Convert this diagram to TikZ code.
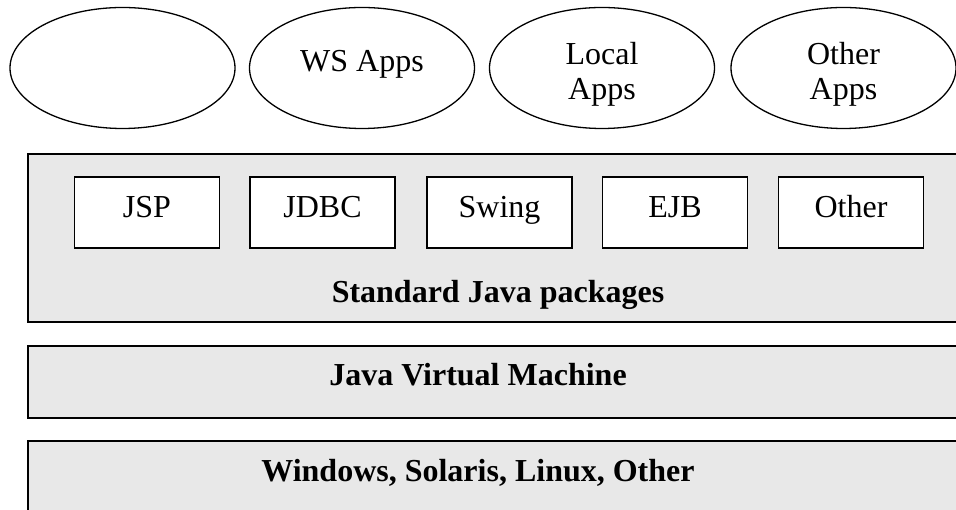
\documentclass[tikz,border=0pt]{standalone}
\usepackage{fontspec}
\setmainfont{Liberation Serif}
\usetikzlibrary{shapes.geometric}
\definecolor{layergray}{HTML}{E8E8E8}
\begin{document}
\begin{tikzpicture}[x=1pt,y=1pt,
  app/.style={draw, line width=1.3pt, ellipse, minimum width=225pt, minimum height=121pt, inner sep=0pt},
  layer/.style={draw, line width=1.7pt, fill=layergray, anchor=north west, inner sep=0pt},
  pkg/.style={draw, line width=1.7pt, fill=white, minimum width=145pt, minimum height=71pt, inner sep=0pt},
  lbl/.style={font=\fontsize{32}{35}\selectfont, inner sep=0pt, anchor=base},
  blbl/.style={font=\fontsize{32}{35}\selectfont\bfseries, inner sep=0pt, anchor=base}]
\useasboundingbox (0,0) rectangle (956,510);
\clip (0,0) rectangle (956,510);
% top ellipses
\node[app] (e1) at (122.5,442) {};
\node[app] (e2) at (362,442) {};
\node[app] (e3) at (602,442) {};
\node[app] (e4) at (843.5,442) {};
\node[lbl] (t2) at (362,438) {WS Apps};
\node[lbl] (t3a) at (602,445) {Local};
\node[lbl] (t3b) at (602,410) {Apps};
\node[lbl] (t4a) at (843.5,445) {Other};
\node[lbl] (t4b) at (843.5,410) {Apps};
% layers
\node[layer, minimum width=945pt, minimum height=168pt] (std) at (27,357) {};
\node[layer, minimum width=945pt, minimum height=72pt] (jvm) at (27,165) {};
\node[layer, minimum width=945pt, minimum height=90pt] (os) at (27,70) {};
% packages
\node[pkg] (jsp) at (147,297.5) {};
\node[pkg] (jdbc) at (322.5,297.5) {};
\node[pkg] (swing) at (499.5,297.5) {};
\node[pkg] (ejb) at (675,297.5) {};
\node[pkg] (oth) at (851,297.5) {};
\node[lbl] (ljsp) at (147,292) {JSP};
\node[lbl] (ljdbc) at (322.5,292) {JDBC};
\node[lbl] (lswing) at (499.5,292) {Swing};
\node[lbl] (lejb) at (675,292) {EJB};
\node[lbl] (loth) at (851,292) {Other};
% layer labels
\node[blbl] (lstd) at (498,207) {Standard Java packages};
\node[blbl] (ljvm) at (478,124) {Java Virtual Machine};
\node[blbl] (los) at (478,28) {Windows, Solaris, Linux, Other};
\end{tikzpicture}
\end{document}
